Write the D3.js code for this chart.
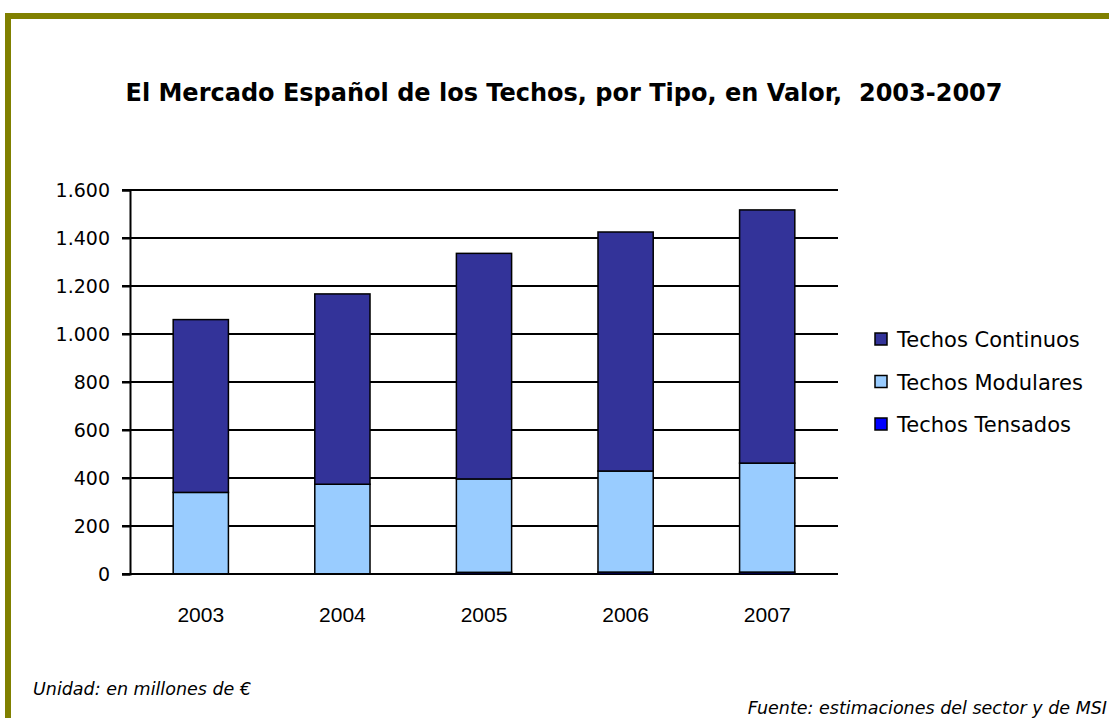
<!DOCTYPE html>
<html>
<head>
<meta charset="utf-8">
<script src="https://cdn.jsdelivr.net/npm/d3@7"></script>
<style>
  html, body { margin: 0; padding: 0; background: #fff; }
  svg { display: block; }
  text { font-family: "DejaVu Sans", sans-serif; fill: #000; }
</style>
</head>
<body>
<script>
const years = ["2003", "2004", "2005", "2006", "2007"];
const continuos = [720, 793, 940, 996, 1055];
const modulares = [339, 373, 389, 421, 454];
const tensados = [1, 1, 7, 8, 8];
const seriesNames = ["Techos Tensados", "Techos Modulares", "Techos Continuos"];
const seriesColors = ["#0000FF", "#99CCFF", "#333399"];
const yTicks = [0, 200, 400, 600, 800, 1000, 1200, 1400, 1600];
const legendOrder = ["Techos Continuos", "Techos Modulares", "Techos Tensados"];

const W = 1109, H = 718;
const svg = d3.select("body").append("svg").attr("width", W).attr("height", H);

// olive frame
svg.append("rect")
  .attr("x", 8).attr("y", 16).attr("width", W + 20).attr("height", H + 20)
  .attr("fill", "none").attr("stroke", "#808000").attr("stroke-width", 6);

svg.append("text")
  .attr("x", 564).attr("y", 101)
  .attr("text-anchor", "middle")
  .attr("xml:space", "preserve")
  .style("font-weight", "bold").style("font-size", "24px")
  .text("El Mercado Español de los Techos, por Tipo, en Valor,  2003-2007");

const plot = { left: 130, right: 838, top: 190, bottom: 574 };
const x = d3.scaleBand().domain(years).range([plot.left, plot.right]).paddingInner(0.61).paddingOuter(0.305);
const y = d3.scaleLinear().domain([0, 1600]).range([plot.bottom, plot.top]);

const fmt = v => d3.format(",")(v).replace(/,/g, ".");

// gridlines
svg.append("g").selectAll("line").data(yTicks).join("line")
  .attr("x1", plot.left - 8).attr("x2", plot.right)
  .attr("y1", d => y(d)).attr("y2", d => y(d))
  .attr("stroke", "#000").attr("stroke-width", 2);

// y axis
const yAxis = svg.append("g").attr("transform", `translate(${plot.left},0)`)
  .call(d3.axisLeft(y).tickValues(yTicks).tickFormat(fmt).tickSize(8).tickPadding(12));
yAxis.select(".domain").attr("stroke", "#000").attr("stroke-width", 2);
yAxis.selectAll(".tick line").attr("stroke-width", 2);
yAxis.selectAll(".tick text").style("font-size", "19px").style("font-family", "'DejaVu Sans', sans-serif");

// stacked data
const rows = years.map((yr, i) => ({
  year: yr,
  "Techos Tensados": tensados[i],
  "Techos Modulares": modulares[i],
  "Techos Continuos": continuos[i]
}));
const stack = d3.stack().keys(seriesNames)(rows);
const color = d3.scaleOrdinal().domain(seriesNames).range(seriesColors);

svg.append("g").selectAll("g").data(stack).join("g")
  .attr("fill", d => color(d.key))
  .selectAll("rect").data(d => d).join("rect")
  .attr("x", d => x(d.data.year))
  .attr("width", x.bandwidth())
  .attr("y", d => y(d[1]))
  .attr("height", d => y(d[0]) - y(d[1]))
  .attr("stroke", "#000").attr("stroke-width", 1.5);

// x axis labels
const xAxis = svg.append("g").attr("transform", `translate(0,${plot.bottom})`)
  .call(d3.axisBottom(x).tickSize(0).tickPadding(33));
xAxis.select(".domain").remove();
xAxis.selectAll(".tick text").style("font-size", "21px")
  .style("font-family", "'Liberation Sans', sans-serif");

// legend
const lg = svg.append("g").attr("transform", "translate(875,333)");
const li = lg.selectAll("g").data(legendOrder).join("g")
  .attr("transform", (d, i) => `translate(0,${i * 42.5})`);
li.append("rect").attr("width", 12).attr("height", 12)
  .attr("fill", d => color(d)).attr("stroke", "#000").attr("stroke-width", 1.5);
li.append("text").attr("x", 22).attr("y", 14)
  .style("font-size", "21px").text(d => d);

svg.append("text").attr("x", 33).attr("y", 695)
  .style("font-size", "17.5px").style("font-style", "italic")
  .text("Unidad: en millones de €");
svg.append("text").attr("x", 1107).attr("y", 714)
  .attr("text-anchor", "end")
  .style("font-size", "17.5px").style("font-style", "italic")
  .text("Fuente: estimaciones del sector y de MSI");
</script>
</body>
</html>
